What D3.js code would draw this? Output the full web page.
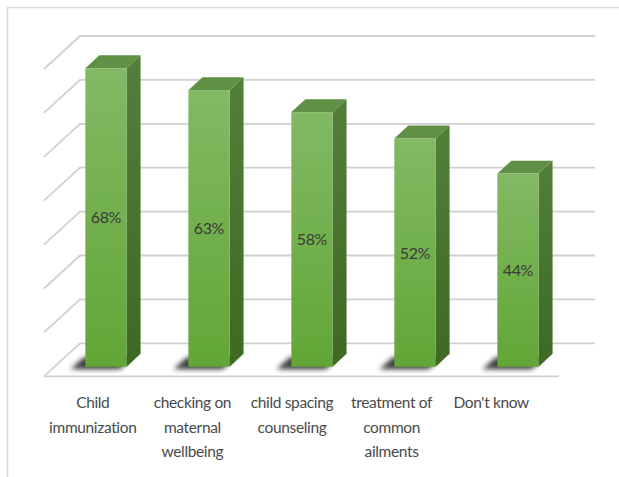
<!DOCTYPE html>
<html>
<head>
<meta charset="utf-8">
<script src="https://cdn.jsdelivr.net/npm/d3@7"></script>
<style>
  html, body { margin: 0; padding: 0; background: #fff; }
  svg { display: block; }
</style>
</head>
<body>
<div id="chart"></div>
<script>
// data
const categories = ["Child immunization", "checking on maternal wellbeing", "child spacing counseling", "treatment of common ailments", "Don't know"];
const values = [68, 63, 58, 52, 44];
const ticks = [0, 10, 20, 30, 40, 50, 60, 70];

const width = 619, height = 477;
const FONT = "Lato, 'Open Sans', sans-serif";

const svg = d3.select("#chart").append("svg")
  .attr("width", width)
  .attr("height", height);

// outer chart border (only top/left visible)
svg.append("path")
  .attr("d", "M7.5,477 V7.5 H619")
  .attr("fill", "none")
  .attr("stroke", "#d9d9d9")
  .attr("stroke-width", 1.5);

// 3D geometry: back wall plane + oblique depth offset
const depth = { dx: -36, dy: 33 };
const x = d3.scaleBand().domain(categories).range([80, 595]).paddingInner(0.6).paddingOuter(0.3);
const y = d3.scaleLinear().domain([0, 70]).range([343.3, 36]);
const off = d => [depth.dx * d, depth.dy * d];
const front = 0.71, back = 0.32;   // bar depth position on the floor

const defs = svg.append("defs");
const gFront = defs.append("linearGradient").attr("id", "gFront").attr("x1", 0).attr("x2", 0).attr("y1", 0).attr("y2", 1);
gFront.append("stop").attr("offset", "0%").attr("stop-color", "#82b964");
gFront.append("stop").attr("offset", "100%").attr("stop-color", "#62a636");
const gSide = defs.append("linearGradient").attr("id", "gSide").attr("x1", 0).attr("x2", 0).attr("y1", 0).attr("y2", 1);
gSide.append("stop").attr("offset", "0%").attr("stop-color", "#527f3a");
gSide.append("stop").attr("offset", "100%").attr("stop-color", "#3d6922");
defs.append("filter").attr("id", "blur").attr("x", "-50%").attr("y", "-50%").attr("width", "200%").attr("height", "200%")
  .append("feGaussianBlur").attr("stdDeviation", 2.5);

// gridlines: back wall + side wall diagonals
const grid = svg.append("g")
  .attr("fill", "none")
  .attr("stroke", "#d0d0d0")
  .attr("stroke-width", 1.8);
const [fx, fy] = off(1);
grid.selectAll("path.g")
  .data(ticks)
  .join("path")
  .attr("class", "g")
  .attr("d", t => `M${x.range()[1]},${y(t)} H${x.range()[0]} l${fx},${fy}`);
// floor front edge
grid.append("path")
  .attr("d", `M${x.range()[0] + fx},${y(0) + fy} H${x.range()[1] + fx}`);

const bars = svg.append("g").selectAll("g.bar")
  .data(categories.map((c, i) => ({ c, v: values[i] })))
  .join("g")
  .attr("class", "bar");

// shadow on the floor
bars.append("path")
  .attr("filter", "url(#blur)")
  .attr("fill", "#1e1e1e")
  .attr("opacity", 0.85)
  .attr("d", d => {
    const x0 = x(d.c), w = x.bandwidth(), y0 = y(0);
    const [bx, by] = off(back + 0.1), [qx, qy] = off(front + 0.08);
    const sx = -12;
    return `M${x0 + bx + sx},${y0 + by} h${w + 8} L${x0 + qx + w + sx + 8},${y0 + qy} h${-w - 8} Z`;
  });

// side face
bars.append("path")
  .attr("fill", "url(#gSide)")
  .attr("d", d => {
    const [ax, ay] = off(front), [bx, by] = off(back);
    const r = x(d.c) + x.bandwidth();
    return `M${r + ax},${y(d.v) + ay} L${r + bx},${y(d.v) + by} L${r + bx},${y(0) + by} L${r + ax},${y(0) + ay} Z`;
  });

// top face
bars.append("path")
  .attr("fill", "#5f9045")
  .attr("d", d => {
    const [ax, ay] = off(front), [bx, by] = off(back);
    const l = x(d.c), r = l + x.bandwidth(), t = y(d.v);
    return `M${l + ax},${t + ay} L${l + bx},${t + by} L${r + bx},${t + by} L${r + ax},${t + ay} Z`;
  });

// front face
bars.append("rect")
  .attr("fill", "url(#gFront)")
  .attr("x", d => x(d.c) + off(front)[0])
  .attr("y", d => y(d.v) + off(front)[1])
  .attr("width", x.bandwidth())
  .attr("height", d => y(0) - y(d.v));

// value labels
bars.append("text")
  .attr("x", d => x(d.c) + off(front)[0] + x.bandwidth() / 2)
  .attr("y", d => (y(d.v) + y(0)) / 2 + off(front)[1] + 6)
  .attr("text-anchor", "middle")
  .attr("font-family", FONT)
  .attr("font-size", 16)
  .attr("letter-spacing", -0.4)
  .attr("fill", "#3a3a3a")
  .text(d => d.v + "%");

// category labels, wrapped
const xl = d3.scaleBand().domain(categories).range([43, 541]);
const labels = svg.append("g")
  .attr("font-family", FONT)
  .attr("font-size", 15.5)
  .attr("letter-spacing", -0.35)
  .attr("fill", "#4a4a4a")
  .attr("text-anchor", "middle");

categories.forEach(c => {
  const cx = xl(c) + xl.bandwidth() / 2;
  const t = labels.append("text").attr("x", cx).attr("y", 408);
  let line = [];
  let ts = t.append("tspan").attr("x", cx).attr("dy", 0);
  c.split(" ").forEach(w => {
    line.push(w);
    ts.text(line.join(" "));
    if (ts.node().getComputedTextLength() > 90 && line.length > 1) {
      line.pop();
      ts.text(line.join(" "));
      line = [w];
      ts = t.append("tspan").attr("x", cx).attr("dy", 24.5).text(w);
    }
  });
});
</script>
</body>
</html>
